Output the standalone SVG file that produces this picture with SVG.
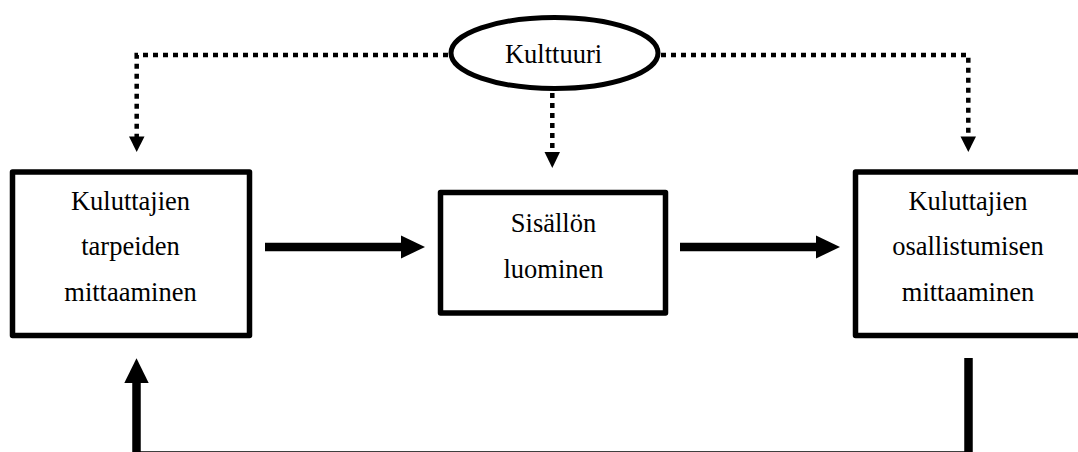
<svg xmlns="http://www.w3.org/2000/svg" width="1078" height="452" viewBox="0 0 1078 452">
<style>
.box{fill:#fff;stroke:#000;stroke-width:5.5;stroke-linejoin:round}
.lbl{font-family:"Liberation Serif","Times New Roman",serif;font-size:26.5px;fill:#000;text-anchor:middle}
.dot{fill:none;stroke:#000;stroke-width:4.5;stroke-dasharray:5 5}
.thick{fill:none;stroke:#000;stroke-width:8.5}
.head{fill:#000}
</style>
<rect width="1078" height="452" fill="#fff"/>
<g id="connectors">
<path class="dot" d="M448,55 H136.7 V137"/>
<polygon class="head" points="129,136.5 144.5,136.5 136.7,152"/>
<path class="dot" d="M661,55 H968.3 V137"/>
<polygon class="head" points="960.5,136.5 976,136.5 968.3,152"/>
<path class="dot" d="M552.3,93 V153"/>
<polygon class="head" points="544.5,152 560,152 552.3,168"/>
<line class="thick" x1="265" y1="247" x2="402" y2="247"/>
<polygon class="head" points="401,235.5 425,247 401,258.5"/>
<line class="thick" x1="680" y1="247" x2="817" y2="247"/>
<polygon class="head" points="816,235.5 840,247 816,258.5"/>
<path class="thick" d="M968.5,358 V455.5 H136.5 V382"/>
<polygon class="head" points="124.3,383 136.5,358.3 148.7,383"/>
</g>
<g id="kulttuuri">
<ellipse cx="554.5" cy="53" rx="103.5" ry="35.5" fill="#fff" stroke="#000" stroke-width="5"/>
<text class="lbl" x="553.5" y="63.3">Kulttuuri</text>
</g>
<g id="tarpeiden">
<rect class="box" x="12.5" y="172" width="237" height="163.5"/>
<text class="lbl" x="130.5" y="209.5">Kuluttajien</text>
<text class="lbl" x="130.5" y="255">tarpeiden</text>
<text class="lbl" x="130.5" y="300.5">mittaaminen</text>
</g>
<g id="sisallon">
<rect class="box" x="440.5" y="192.5" width="225" height="120.5"/>
<text class="lbl" x="553.5" y="231.7">Sisällön</text>
<text class="lbl" x="553.5" y="278.3">luominen</text>
</g>
<g id="osallistumisen">
<rect class="box" x="855.5" y="172" width="240" height="163.5"/>
<text class="lbl" x="968" y="209.5">Kuluttajien</text>
<text class="lbl" x="968" y="255">osallistumisen</text>
<text class="lbl" x="968" y="300.5">mittaaminen</text>
</g>
</svg>
